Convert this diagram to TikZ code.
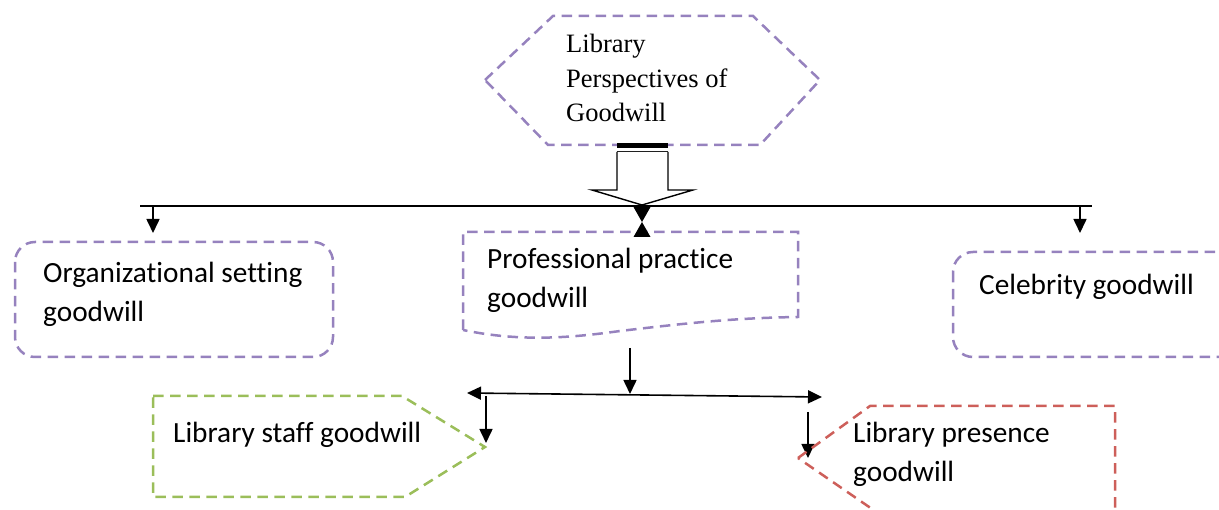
\documentclass[tikz,border=0pt]{standalone}
\usepackage{fontspec}
\setmainfont[Ligatures=NoCommon]{Carlito}
\newfontfamily\seriffont{Liberation Serif}
\usetikzlibrary{arrows.meta}
\definecolor{purp}{RGB}{150,130,190}
\definecolor{grn}{RGB}{155,190,90}
\definecolor{rd}{RGB}{205,95,90}
\tikzset{
  dbox/.style={line width=2.5pt, dash pattern=on 10.5pt off 6.5pt},
  lbl/.style={anchor=base west, inner sep=0pt, align=left, font=\fontsize{29.3}{39.5}\selectfont},
  arr/.style={line width=1.6pt, -{Triangle[length=14pt,width=13pt]}},
  darr/.style={line width=1.6pt, {Triangle[length=14pt,width=13pt]}-{Triangle[length=14pt,width=13pt]}},
}
\begin{document}
\begin{tikzpicture}[x=1pt,y=-1pt]
\useasboundingbox (0,0) rectangle (1219,510);
\clip (0,0) rectangle (1219,510);
% top hexagon
\draw[dbox, draw=purp] (485,80) -- (553,16) -- (753,16) -- (820,80) -- (760,145) -- (548,145) -- cycle;
\node[anchor=base west, inner sep=0pt, align=left, font=\seriffont\fontsize{26.5}{34.5}\selectfont] (top) at (566,122) {Library\\Perspectives of\\Goodwill};
% block arrow
\fill (617,143) rectangle (668,148);
\draw[line width=1.2pt] (617,152) -- (668,152);
\draw[line width=1.4pt, fill=white] (617,152) -- (617,190) -- (592,190) -- (642,205) -- (693,190) -- (668,190) -- (668,152);
% main bus
\coordinate (busL) at (140,206);
\coordinate (busR) at (1092,206);
\draw[line width=1.6pt] (busL) -- (busR);
% boxes level 1
\draw[dbox, draw=purp, rounded corners=20pt] (15,242) rectangle (333,357);
\node[lbl] (org) at (43,322) {Organizational setting\\goodwill};
\draw[dbox, draw=purp, rounded corners=20pt] (953,252) rectangle (1240,357);
\node[lbl] (cel) at (979,295) {Celebrity goodwill};
\draw[dbox, draw=purp] (463,330) -- (463,232) -- (798,232) -- (798,317)
  .. controls (730,318) and (680,324) .. (620,331) .. controls (570,338) and (520,342) .. (463,330);
\node[lbl] (prof) at (487,308) {Professional practice\\goodwill};
% arrows from main bus
\coordinate (o1) at (153,206);
\coordinate (o2) at (153,233);
\draw[arr] (o1) -- (o2);
\coordinate (c1) at (1080,206);
\coordinate (c2) at (1080,233);
\draw[arr] (c1) -- (c2);
\coordinate (p1) at (642,207);
\coordinate (pm) at (642,222);
\coordinate (p2) at (642,237);
\fill (p1) ++(-8.5,0) -- ++(17,0) -- (pm) -- cycle;
\fill (p2) ++(-8.5,0) -- ++(17,0) -- (pm) -- cycle;
% second level
\coordinate (s1) at (630,348);
\coordinate (s2) at (630,394);
\draw[arr] (s1) -- (s2);
\coordinate (bL) at (467,393);
\coordinate (bR) at (822,397);
\draw[darr] (bL) -- (bR);
\coordinate (l1) at (486,396);
\coordinate (l2) at (486,443);
\draw[arr] (l1) -- (l2);
\coordinate (r1) at (808,412);
\coordinate (r2) at (808,458);
\draw[arr] (r1) -- (r2);
% bottom shapes
\draw[dbox, draw=grn] (153,396) -- (402,396) -- (485,447) -- (405,497) -- (153,497) -- cycle;
\node[lbl] (staff) at (173,443) {Library staff goodwill};
\draw[dbox, draw=rd] (798,458) -- (870,406) -- (1115,406) -- (1115,520) -- (888,520) -- cycle;
\node[lbl] (pres) at (853,482) {Library presence\\goodwill};
\end{tikzpicture}
\end{document}
